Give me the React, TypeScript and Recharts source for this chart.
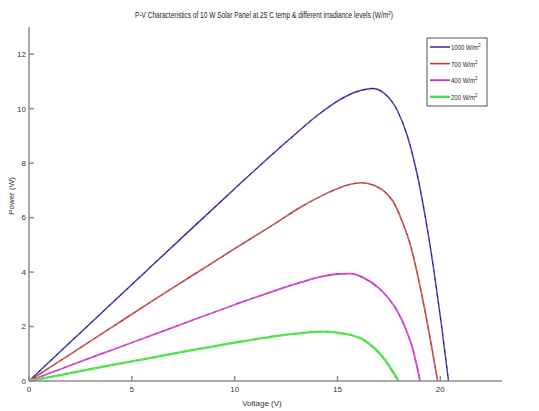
import { LineChart, Line, XAxis, YAxis } from 'recharts';

// P-V curves, one array pair per irradiance level
const v1000 = [0, 2, 4, 6, 8, 10, 12, 13, 14, 15, 16, 16.7, 17.3, 17.9, 18.4, 18.9, 19.3, 19.7, 20.05, 20.4];
const p1000 = [0, 1.42, 2.84, 4.25, 5.66, 7.06, 8.44, 9.1, 9.74, 10.28, 10.64, 10.74, 10.55, 9.95, 9.0, 7.5, 5.9, 4.0, 2.1, 0];

const v700 = [0, 2, 4, 6, 8, 10, 12, 13.2, 14.5, 15.5, 16.2, 16.8, 17.3, 17.7, 18.1, 18.6, 19.05, 19.45, 19.87];
const p700 = [0, 0.98, 1.96, 2.94, 3.9, 4.86, 5.8, 6.38, 6.9, 7.2, 7.28, 7.18, 6.95, 6.6, 5.95, 4.85, 3.35, 1.8, 0];

const v400 = [0, 2, 4, 6, 8, 10, 12, 13.2, 14.2, 15.0, 15.6, 16.3, 17.0, 17.5, 17.9, 18.3, 18.65, 19.02];
const p400 = [0, 0.57, 1.13, 1.69, 2.25, 2.8, 3.33, 3.62, 3.83, 3.93, 3.94, 3.78, 3.42, 3.02, 2.58, 1.95, 1.2, 0];

const v200 = [0, 2, 4, 6, 8, 10, 12, 13.2, 14.3, 15.0, 15.7, 16.3, 16.8, 17.2, 17.6, 17.97];
const p200 = [0, 0.29, 0.58, 0.86, 1.14, 1.41, 1.65, 1.76, 1.81, 1.78, 1.68, 1.5, 1.2, 0.88, 0.45, 0];

const xTicks = [0, 5, 10, 15, 20];
const yTicks = [0, 2, 4, 6, 8, 10, 12];

const toRows = (v: number[], p: number[]) => v.map((x, i) => ({ v: x, p: p[i] }));

const series = [
  { name: '1000', color: '#1c1c9a', width: 1.4, data: toRows(v1000, p1000) },
  { name: '700', color: '#b83a3a', width: 1.6, data: toRows(v700, p700) },
  { name: '400', color: '#c633c6', width: 1.8, data: toRows(v400, p400) },
  { name: '200', color: '#3fe03f', width: 2.3, data: toRows(v200, p200) },
];

const font = "'Liberation Sans Narrow', 'Liberation Sans', Arial, sans-serif";
const axisColor = '#8c8c8c';
const tickStyle = { fill: '#333', fontSize: 8, fontFamily: font };
const noLabel = () => <g />;

export default function App() {
  return (
    <div style={{ position: 'absolute', left: 0, top: 0, width: 539, height: 411, background: '#fff' }}>
      <LineChart width={539} height={411} margin={{ top: 27, right: 37, bottom: 0, left: 0 }}>
        <XAxis
          xAxisId="b"
          type="number"
          dataKey="v"
          domain={[0, 23]}
          ticks={xTicks}
          height={30}
          stroke={axisColor}
          strokeWidth={1.5}
          tickSize={-5}
          tickMargin={10}
          tick={tickStyle}
          allowDuplicatedCategory={false}
        />
        <XAxis
          xAxisId="t"
          orientation="top"
          type="number"
          dataKey="v"
          domain={[0, 23]}
          ticks={xTicks}
          height={0}
          stroke={axisColor}
          strokeWidth={1.5}
          tickSize={-5}
          tick={noLabel}
        />
        <YAxis
          yAxisId="l"
          type="number"
          domain={[0, 13]}
          ticks={yTicks}
          width={29}
          stroke={axisColor}
          strokeWidth={1.5}
          tickSize={-5}
          tickMargin={8}
          tick={tickStyle}
        />
        <YAxis
          yAxisId="r"
          orientation="right"
          type="number"
          domain={[0, 13]}
          ticks={yTicks}
          width={0}
          stroke={axisColor}
          strokeWidth={1.5}
          tickSize={-5}
          tick={noLabel}
        />
        {series.map((s) => (
          <Line
            key={s.name}
            xAxisId="b"
            yAxisId="l"
            data={s.data}
            dataKey="p"
            type="monotone"
            stroke={s.color}
            strokeWidth={s.width}
            dot={false}
            isAnimationActive={false}
          />
        ))}
        {series.map((s) => (
          <Line
            key={s.name + 'w'}
            xAxisId="b"
            yAxisId="l"
            data={s.data}
            dataKey="p"
            type="monotone"
            stroke="#ffffff"
            strokeOpacity={0.5}
            strokeWidth={0.5}
            strokeDasharray="5 3"
            dot={false}
            isAnimationActive={false}
          />
        ))}
      </LineChart>

      <svg width={539} height={411} style={{ position: 'absolute', left: 0, top: 0, pointerEvents: 'none' }}>
        <text transform="translate(264 18) scale(0.77 1)" textAnchor="middle" fontSize={8.5} fill="#222" fontFamily={font}>
          P-V Characteristics of 10 W Solar Panel at 25 C temp &amp; different irradiance levels (W/m
          <tspan dy={-3} fontSize={6}>2</tspan>
          <tspan dy={3}>)</tspan>
        </text>

        <text x={262} y={406} textAnchor="middle" fontSize={8} fill="#333" fontFamily={font}>Voltage (V)</text>
        <text x={14} y={196} textAnchor="middle" fontSize={8} fill="#333" fontFamily={font}
          transform="rotate(-90 14 196)">Power (W)</text>

        <rect x={427} y={38} width={60} height={68} fill="#fff" stroke="#555" strokeWidth={1} />
        {series.map((s, i) => {
          const y = 47 + i * 16.6;
          return (
            <g key={s.name}>
              <line x1={430} x2={450} y1={y} y2={y} stroke={s.color} strokeWidth={s.width} />
              <text transform={`translate(451 ${y + 3}) scale(0.8 1)`} fontSize={7.5} fill="#222" fontFamily={font}>
                {s.name} W/m<tspan dy={-3} fontSize={5.5}>2</tspan>
              </text>
            </g>
          );
        })}
      </svg>
    </div>
  );
}
